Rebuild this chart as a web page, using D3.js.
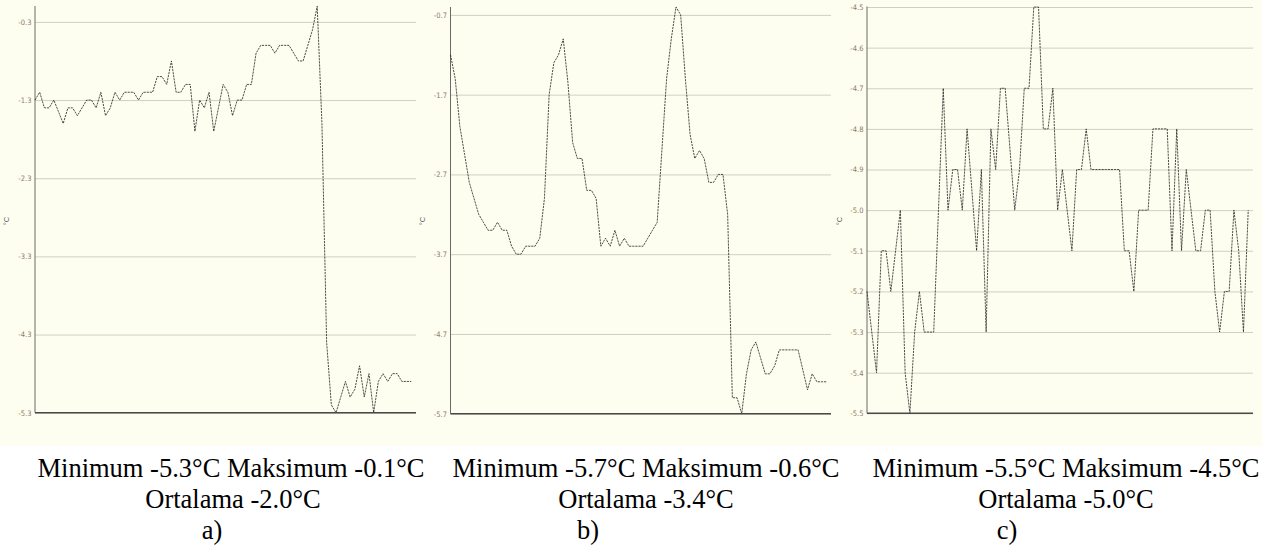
<!DOCTYPE html>
<html>
<head>
<meta charset="utf-8">
<script src="https://cdn.jsdelivr.net/npm/d3@7"></script>
<style>
  html, body { margin: 0; padding: 0; background: #ffffff; }
  svg { display: block; }
</style>
</head>
<body>
<svg id="chart" width="1262" height="551"></svg>
<script>
// ---- data ----
const sampleIndex = d3.range(81);   // 81 readings per record

const seriesA = [-1.3,-1.2,-1.4,-1.4,-1.3,-1.45,-1.6,-1.4,-1.4,-1.5,
                 -1.4,-1.3,-1.3,-1.4,-1.2,-1.5,-1.4,-1.2,-1.3,-1.2,
                 -1.2,-1.2,-1.3,-1.2,-1.2,-1.2,-1.0,-1.0,-1.1,-0.8,
                 -1.2,-1.2,-1.1,-1.1,-1.7,-1.3,-1.4,-1.2,-1.7,-1.4,
                 -1.1,-1.2,-1.5,-1.3,-1.3,-1.1,-1.1,-0.7,-0.6,-0.6,
                 -0.6,-0.7,-0.6,-0.6,-0.6,-0.7,-0.8,-0.8,-0.6,-0.4,
                 -0.1,-1.6,-4.4,-5.2,-5.3,-5.1,-4.9,-5.1,-5.0,-4.7,
                 -5.1,-4.8,-5.3,-4.9,-4.8,-4.9,-4.8,-4.8,-4.9,-4.9,
                 -4.9];

const seriesB = [-1.2,-1.5,-2.1,-2.45,-2.8,-3.0,-3.2,-3.3,-3.4,-3.4,
                 -3.3,-3.4,-3.4,-3.6,-3.7,-3.7,-3.6,-3.6,-3.6,-3.5,
                 -3.0,-1.7,-1.3,-1.2,-1.0,-1.55,-2.3,-2.5,-2.5,-2.9,
                 -2.9,-3.0,-3.6,-3.5,-3.6,-3.4,-3.6,-3.5,-3.6,-3.6,
                 -3.6,-3.6,-3.5,-3.4,-3.3,-2.4,-1.5,-1.0,-0.6,-0.7,
                 -1.5,-2.2,-2.5,-2.4,-2.5,-2.8,-2.8,-2.7,-2.7,-3.2,
                 -5.5,-5.5,-5.7,-5.2,-4.9,-4.8,-5.0,-5.2,-5.2,-5.1,
                 -4.9,-4.9,-4.9,-4.9,-4.9,-5.15,-5.4,-5.2,-5.3,-5.3,
                 -5.3];

const seriesC = [-5.2,-5.3,-5.4,-5.1,-5.1,-5.2,-5.1,-5.0,-5.4,-5.5,
                 -5.3,-5.2,-5.3,-5.3,-5.3,-5.0,-4.7,-5.0,-4.9,-4.9,
                 -5.0,-4.8,-4.95,-5.1,-4.9,-5.3,-4.8,-4.9,-4.7,-4.7,
                 -4.85,-5.0,-4.9,-4.7,-4.7,-4.5,-4.5,-4.8,-4.8,-4.7,
                 -5.0,-4.9,-5.0,-5.1,-4.9,-4.9,-4.8,-4.9,-4.9,-4.9,
                 -4.9,-4.9,-4.9,-4.9,-5.1,-5.1,-5.2,-5.0,-5.0,-5.0,
                 -4.8,-4.8,-4.8,-4.8,-5.1,-4.8,-5.1,-4.9,-5.0,-5.1,
                 -5.1,-5.0,-5.0,-5.2,-5.3,-5.2,-5.2,-5.0,-5.1,-5.3,
                 -5.0];

const ticksA = [-0.3,-1.3,-2.3,-3.3,-4.3,-5.3];
const ticksB = [-0.7,-1.7,-2.7,-3.7,-4.7,-5.7];
const ticksC = [-4.5,-4.6,-4.7,-4.8,-4.9,-5.0,-5.1,-5.2,-5.3,-5.4,-5.5];

const unitLabel = "°C";
const captionStats = ["Minimum -5.3°C Maksimum -0.1°C",
                      "Minimum -5.7°C Maksimum -0.6°C",
                      "Minimum -5.5°C Maksimum -4.5°C"];
const captionMean = ["Ortalama -2.0°C", "Ortalama -3.4°C", "Ortalama -5.0°C"];
const captionLetter = ["a)", "b)", "c)"];

// ---- layout ----
const panels = [
  { values: seriesA, ticks: ticksA, x0: 35,    x1: 416,  yTop: 6,   yLow: ticksA[5],  yHigh: ticksA[0], rLow: 412.7, rHigh: 21.9, labelX: 9,   capX: 231,  meanX: 233,  letX: 212 },
  { values: seriesB, ticks: ticksB, x0: 450.5, x1: 831,  yTop: 7,   yLow: ticksB[5],  yHigh: ticksB[0], rLow: 413.7, rHigh: 14.9, labelX: 425, capX: 646,  meanX: 646,  letX: 588 },
  { values: seriesC, ticks: ticksC, x0: 867,   x1: 1253, yTop: 6.5, yLow: ticksC[10], yHigh: ticksC[0], rLow: 413.3, rHigh: 7,    labelX: 842, capX: 1066, meanX: 1066, letX: 1007 }
];

const svg = d3.select("#chart");

svg.append("rect")
  .attr("x", 0).attr("y", 0)
  .attr("width", 1262).attr("height", 446)
  .attr("fill", "#fefef0");

const fmt = d => d.toFixed(1);

panels.forEach((p, i) => {
  const x = d3.scaleLinear().domain([0, sampleIndex.length]).range([p.x0, p.x1]);
  const y = d3.scaleLinear().domain([p.yLow, p.yHigh]).range([p.rLow, p.rHigh]);
  const g = svg.append("g");

  // grid + tick labels via d3 axis
  const axis = d3.axisLeft(y)
    .tickValues(p.ticks)
    .tickFormat(fmt)
    .tickSize(-(p.x1 - p.x0))
    .tickPadding(3.5);

  const ag = g.append("g")
    .attr("transform", `translate(${p.x0},0)`)
    .call(axis);
  ag.select(".domain").remove();
  ag.selectAll(".tick line")
    .attr("stroke", "#cfcfc4")
    .attr("stroke-width", 1);
  ag.selectAll(".tick text")
    .attr("fill", "#8a7c66")
    .attr("font-family", "'Liberation Sans Narrow', 'DejaVu Sans Condensed', 'Liberation Sans', sans-serif")
    .attr("font-size", 7.5);

  // left axis line
  g.append("line")
    .attr("x1", p.x0).attr("x2", p.x0)
    .attr("y1", p.yTop).attr("y2", y(p.yLow))
    .attr("stroke", "#6a6a66").attr("stroke-width", 1);

  // data line
  const line = d3.line()
    .x((d, k) => x(sampleIndex[k]))
    .y(d => y(d));
  g.append("path")
    .datum(p.values)
    .attr("d", line)
    .attr("fill", "none")
    .attr("stroke", "#222")
    .attr("stroke-width", 0.8)
    .attr("stroke-dasharray", "2.2,0.9");

  // bottom axis line
  g.append("line")
    .attr("x1", p.x0).attr("x2", p.x1)
    .attr("y1", y(p.yLow)).attr("y2", y(p.yLow))
    .attr("stroke", "#4a4a48").attr("stroke-width", 1.6);

  // unit label
  g.append("text")
    .attr("transform", `translate(${p.labelX},221) rotate(-90)`)
    .attr("text-anchor", "middle")
    .attr("font-family", "'Liberation Sans Narrow', 'Liberation Sans', sans-serif")
    .attr("font-size", 7.5)
    .attr("fill", "#555")
    .text(unitLabel);

  // captions
  const cap = svg.append("g")
    .attr("font-family", "'Liberation Serif', 'Times New Roman', serif")
    .attr("font-size", 26.5)
    .attr("fill", "#000")
    .attr("text-anchor", "middle");
  cap.append("text").attr("x", p.capX).attr("y", 477).text(captionStats[i]);
  cap.append("text").attr("x", p.meanX).attr("y", 508).text(captionMean[i]);
  cap.append("text").attr("x", p.letX).attr("y", 539).text(captionLetter[i]);
});
</script>
</body>
</html>
